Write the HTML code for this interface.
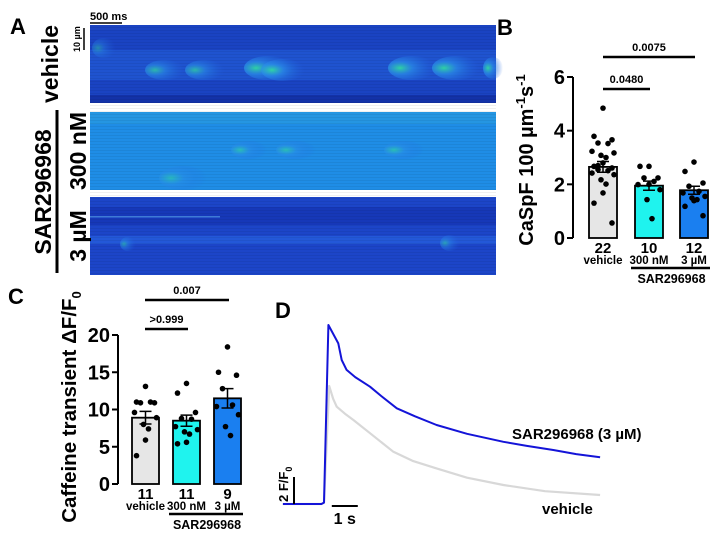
<!DOCTYPE html>
<html><head><meta charset="utf-8"><style>
body{margin:0;background:#fff}
svg{display:block;font-family:"Liberation Sans",sans-serif}
</style></head><body>
<svg id="fig" width="717" height="539" viewBox="0 0 717 539" xmlns="http://www.w3.org/2000/svg">
<defs>
<radialGradient id="spk" cx="0.25" cy="0.5" r="0.75"><stop offset="0" stop-color="#30d8a0" stop-opacity="0.95"/><stop offset="0.35" stop-color="#2a8ee8" stop-opacity="0.7"/><stop offset="1" stop-color="#2060e0" stop-opacity="0"/></radialGradient>
<pattern id="stripes" width="4" height="3" patternUnits="userSpaceOnUse"><rect width="4" height="1" fill="#000" opacity="0.06"/></pattern>
</defs>
<g>
<text x="10" y="34" font-size="22" font-weight="bold">A</text>
<rect x="90" y="25" width="406" height="78" fill="#1a43c2"/>
<rect x="90" y="50" width="406" height="30" fill="#2158d2" opacity="0.8"/>
<rect x="90" y="95" width="406" height="8" fill="#1332a8"/>
<rect x="90" y="112" width="406" height="78" fill="#1f8de6"/>
<rect x="90" y="112" width="406" height="12" fill="#2a9de0" opacity="0.6"/>
<rect x="90" y="197" width="406" height="78" fill="#1c45c8"/>
<rect x="90" y="207" width="406" height="18" fill="#1638b8"/>
<rect x="90" y="236" width="406" height="8" fill="#2358d8"/>
<rect x="90" y="25" width="406" height="250" fill="url(#stripes)"/>
<g>
<ellipse cx="165" cy="70" rx="20" ry="10" fill="url(#spk)" opacity="0.8"/>
<ellipse cx="205" cy="70" rx="20" ry="10" fill="url(#spk)" opacity="0.8"/>
<ellipse cx="268" cy="68" rx="24" ry="12" fill="url(#spk)"/>
<ellipse cx="283" cy="70" rx="22" ry="11" fill="url(#spk)"/>
<ellipse cx="412" cy="68" rx="24" ry="12" fill="url(#spk)"/>
<ellipse cx="456" cy="68" rx="24" ry="12" fill="url(#spk)"/>
<ellipse cx="493" cy="68" rx="10" ry="11" fill="url(#spk)"/>
<ellipse cx="104" cy="48" rx="12" ry="10" fill="url(#spk)" opacity="0.5"/>
<ellipse cx="249" cy="150" rx="18" ry="9" fill="url(#spk)" opacity="0.7"/>
<ellipse cx="296" cy="150" rx="20" ry="9" fill="url(#spk)" opacity="0.7"/>
<ellipse cx="404" cy="150" rx="20" ry="9" fill="url(#spk)" opacity="0.7"/>
<ellipse cx="183" cy="178" rx="24" ry="12" fill="url(#spk)" opacity="0.6"/>
<ellipse cx="128" cy="244" rx="8" ry="7" fill="url(#spk)" opacity="0.6"/>
<ellipse cx="450" cy="243" rx="10" ry="8" fill="url(#spk)" opacity="0.6"/>
<rect x="90" y="216" width="130" height="1.5" fill="#5aa8f0" opacity="0.6"/>
</g>
<text x="90" y="20" font-size="11" font-weight="bold">500 ms</text>
<line x1="90" y1="23" x2="122" y2="23" stroke="#000" stroke-width="1.5"/>
<line x1="84" y1="28" x2="84" y2="50" stroke="#000" stroke-width="1.5"/>
<text transform="translate(80,52) rotate(-90)" font-size="9" font-weight="bold">10 µm</text>
<text transform="translate(58,64) rotate(-90)" text-anchor="middle" font-size="23" font-weight="bold">vehicle</text>
<text transform="translate(51,192) rotate(-90)" text-anchor="middle" font-size="23" font-weight="bold">SAR296968</text>
<line x1="57" y1="110" x2="57" y2="273" stroke="#000" stroke-width="3"/>
<text transform="translate(86,151) rotate(-90)" text-anchor="middle" font-size="23" font-weight="bold">300 nM</text>
<text transform="translate(86,236) rotate(-90)" text-anchor="middle" font-size="23" font-weight="bold">3 µM</text>
</g>
<g id="panelB"></g>
<g id="panelC"></g>
<g id="panelD"></g>
</svg>
<script>
// Panel B data
const bGroups = ["vehicle","300 nM","3 µM"];
const bCounts = ["22","10","12"];
const bMeans = [2.65,1.95,1.78];
const bSem = [0.2,0.17,0.15];
const bVehicle = [4.84,3.79,3.66,3.54,3.52,3.23,3.17,3.08,3.0,2.8,2.67,2.61,2.55,2.51,2.42,2.36,2.17,2.01,1.68,1.3,0.56,2.7];
const b300 = [2.67,2.67,2.24,2.24,2.11,1.99,1.8,1.43,0.72,2.0];
const b3 = [2.83,2.48,2.05,1.93,1.74,1.68,1.55,1.49,1.43,1.39,1.18,0.83];
const bTicks = [0,2,4,6];
// Panel C data
const cGroups = ["vehicle","300 nM","3 µM"];
const cCounts = ["11","11","9"];
const cMeans = [8.9,8.5,11.5];
const cSem = [0.85,0.75,1.3];
const cVehicle = [13.1,11.0,10.9,10.9,11.0,9.6,8.9,8.0,7.4,5.9,3.8];
const c300 = [13.5,12.2,9.6,8.8,8.7,7.7,7.3,7.0,6.7,5.6,5.4];
const c3 = [18.4,15.0,14.6,12.8,10.6,10.4,9.3,7.7,6.5];
const cTicks = [0,5,10,15,20];
// Panel D data (time s, F/F0)
const dTimeBlue = [-1.58,-0.1,0,0.17,0.55,0.68,0.87,1.2,1.77,2.2,2.8,3.5,4.33,5.5,6.9,7.8,8.82,9.7,10.62];
const dBlue = [1,1,1.1,14.26,12.9,11.67,10.93,10.4,9.69,9.0,8.09,7.5,6.85,6.2,5.61,5.3,5.0,4.7,4.46];
const dTimeGray = [-1.58,-0.1,0,0.2,0.35,0.49,0.8,1.13,1.8,2.67,3.4,4.33,5.5,6.9,8.5,10.62];
const dGray = [1,1,1.1,9.74,8.8,8.21,7.7,7.22,6.2,4.87,4.2,3.64,2.95,2.41,1.95,1.67];

const NS="http://www.w3.org/2000/svg";
function mk(parent,tag,attrs){const e=document.createElementNS(NS,tag);for(const k in attrs)e.setAttribute(k,attrs[k]);parent.appendChild(e);return e;}
function txt(parent,x,y,s,size,anchor,extra){const t=mk(parent,'text',Object.assign({x:x,y:y,'font-size':size,'font-weight':'bold','text-anchor':anchor||'start'},extra||{}));t.textContent=s;return t;}

function barPanel(g,o){
  const y=v=>o.y0-(v-0)*(o.y0-o.yTop)/o.vmax;
  const ax=mk(g,'line',{x1:o.ax,y1:y(o.vmax),x2:o.ax,y2:o.y0,stroke:'#000','stroke-width':2});
  
  
  o.ticks.forEach(tv=>{
    const tl=mk(g,'line',{x1:o.ax-6,y1:y(tv),x2:o.ax,y2:y(tv),stroke:'#000','stroke-width':2});
    
    
    const tt=txt(g,o.ax-8,y(tv)+7,String(tv),20,'end');
    
    
  });
  const colors=['#e6e6e6','#1ff3ee','#1a7ff0'];
  o.means.forEach((m,i)=>{
    const x0=o.bx[i],w=o.bw;
    const r=mk(g,'rect',{x:x0,y:y(m),width:w,height:o.y0-y(m),fill:colors[i],stroke:'#000','stroke-width':1.8});
    
    
    const cx=x0+w/2;
    const eb=mk(g,'path',{d:`M${cx},${y(m-o.sem[i])}V${y(m+o.sem[i])}M${cx-6},${y(m+o.sem[i])}H${cx+6}M${cx-6},${y(m-o.sem[i])}H${cx+6}`,stroke:'#000','stroke-width':1.5,fill:'none'});
    
    
    o.pts[i].forEach((v,j)=>{
      const off=[0,-9,9,-5,5,-11,11,-2,3][j%9];
      const c=mk(g,'circle',{cx:cx+off,cy:y(v),r:2.8,fill:'#000'});
      
      
    });
    const n=txt(g,cx,o.y0+15,o.counts[i],15,'middle');
    
    
    const gl=txt(g,cx,o.y0+26,o.groups[i],11.5,'middle');
    
    
  });
  const sl=mk(g,'line',{x1:o.bx[1]-4,y1:o.y0+30,x2:o.bx[2]+o.bw+2,y2:o.y0+30,stroke:'#000','stroke-width':2.5});
  
  
  const st=txt(g,(o.bx[1]+o.bx[2]+o.bw)/2,o.y0+45,'SAR296968',12.5,'middle');
  
  
  o.sig.forEach(s=>{
    const l=mk(g,'line',{x1:s[0],y1:s[2],x2:s[1],y2:s[2],stroke:'#000','stroke-width':2.5});
    
    
    const t=txt(g,(s[0]+s[1])/2,s[2]-6,s[3],11,'middle');
    
    
  });
}
const gB=document.getElementById('panelB');
barPanel(gB,{ax:573,y0:238,yTop:77,vmax:6,ticks:bTicks,means:bMeans,sem:bSem,groups:bGroups,counts:bCounts,pts:[bVehicle,b300,b3],bx:[589,635,680],bw:28,sig:[[603,650,89,'0.0480'],[603,695,57,'0.0075']]});
const lb=txt(gB,497,35,'B',22,'start');


const yb=mk(gB,'text',{transform:'translate(533,160) rotate(-90)','font-size':20,'font-weight':'bold','text-anchor':'middle'});
yb.innerHTML='CaSpF 100 µm<tspan dy="-8" font-size="13">-1</tspan><tspan dy="8">s</tspan><tspan dy="-8" font-size="13">-1</tspan>';



const gC=document.getElementById('panelC');
barPanel(gC,{ax:118,y0:484,yTop:335,vmax:20,ticks:cTicks,means:cMeans,sem:cSem,groups:cGroups,counts:cCounts,pts:[cVehicle,c300,c3],bx:[132,173,214],bw:27,sig:[[145,188,329,'>0.999'],[145,229,300,'0.007']]});
const lc=txt(gC,8,304,'C',22,'start');


const yc=mk(gC,'text',{transform:'translate(76,407) rotate(-90)','font-size':20.5,'font-weight':'bold','text-anchor':'middle'});
yc.innerHTML='Caffeine transient ΔF/F<tspan dy="5" font-size="13">0</tspan>';



// Panel D
const gD=document.getElementById('panelD');
const dx=t=>324+t*26, dy=v=>504-(v-1)*13.5;
function trace(ts,vs,color,w,name){
  const d=ts.map((t,i)=>(i?'L':'M')+dx(t).toFixed(1)+','+dy(vs[i]).toFixed(1)).join('');
  const p=mk(gD,'path',{d:d,stroke:color,'stroke-width':w,fill:'none','stroke-linejoin':'round'});
  
  
}
trace(dTimeGray,dGray,'#d8d8d8',2.2,'vehicle-trace');
trace(dTimeBlue,dBlue,'#1414d8',2,'sar-trace');
const ld=txt(gD,275,318,'D',22,'start');


const l1=txt(gD,512,439,'SAR296968 (3 µM)',15,'start');


const l2=txt(gD,542,514,'vehicle',15,'start');


const vb=mk(gD,'line',{x1:294,y1:dy(3),x2:294,y2:dy(1),stroke:'#000','stroke-width':2});


const vt=mk(gD,'text',{transform:'translate(288,502) rotate(-90)','font-size':13,'font-weight':'bold'});
vt.innerHTML='2 F/F<tspan dy="4" font-size="9">0</tspan>';


const hb=mk(gD,'line',{x1:dx(0.3),y1:506,x2:dx(1.3),y2:506,stroke:'#000','stroke-width':2});


const ht=txt(gD,dx(0.8),524,'1 s',16,'middle');


</script>
</body></html>
